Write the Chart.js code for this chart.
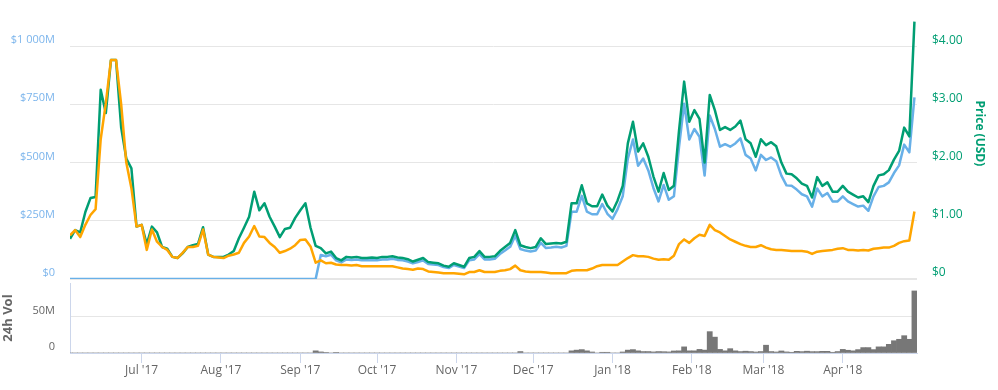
<!DOCTYPE html>
<html>
<head>
<meta charset="utf-8">
<title>Price chart</title>
<script src="https://cdn.jsdelivr.net/npm/chart.js@4.4.1/dist/chart.umd.min.js"></script>
<style>
  html, body { margin: 0; padding: 0; background: #fff; }
  #wrap { position: relative; width: 998px; height: 390px; }
  #volChart { position: absolute; left: 0; top: 275px; }
  #priceChart { position: absolute; left: 0; top: 0; z-index: 2; }
</style>
</head>
<body>
<div id="wrap">
  <canvas id="volChart" width="998" height="115"></canvas>
  <canvas id="priceChart" width="998" height="290"></canvas>
</div>
<script>
// one sample every 2 days, day 0 = 3 Jun 2017
const STEP_DAYS = 2;
const X_MAX = 331;

const monthTickDays = [28, 59, 90, 120, 151, 181, 212, 243, 271, 302];
const monthTickLabels = ["Jul '17", "Aug '17", "Sep '17", "Oct '17", "Nov '17", "Dec '17", "Jan '18", "Feb '18", "Mar '18", "Apr '18"];
const capTicks = [0, 250, 500, 750, 1000];    // $M
const priceTicks = [0, 1, 2, 3, 4];           // USD
const volTicks = [0, 50];                     // M

// price in USD
const priceUsd = [
  0.69, 0.84, 0.80, 1.15, 1.39, 1.41, 3.25, 2.85, 3.76, 3.76,
  2.60, 2.07, 1.90, 0.90, 0.93, 0.60, 0.90, 0.80, 0.55, 0.52,
  0.38, 0.36, 0.44, 0.55, 0.58, 0.60, 0.89, 0.42, 0.38, 0.38,
  0.38, 0.42, 0.48, 0.70, 0.88, 1.07, 1.50, 1.18, 1.30, 1.07,
  0.90, 0.72, 0.86, 0.88, 1.05, 1.18, 1.30, 0.88, 0.57, 0.53,
  0.44, 0.47, 0.36, 0.32, 0.38, 0.37, 0.38, 0.36, 0.36, 0.37,
  0.36, 0.38, 0.38, 0.39, 0.37, 0.36, 0.34, 0.30, 0.33, 0.36,
  0.29, 0.28, 0.27, 0.23, 0.21, 0.27, 0.24, 0.21, 0.36, 0.38,
  0.48, 0.38, 0.38, 0.39, 0.48, 0.55, 0.62, 0.84, 0.58, 0.55,
  0.53, 0.55, 0.70, 0.60, 0.61, 0.62, 0.61, 0.64, 1.30, 1.30,
  1.61, 1.30, 1.25, 1.25, 1.45, 1.26, 1.16, 1.35, 1.60, 2.33,
  2.70, 2.19, 2.33, 2.10, 1.76, 1.50, 1.82, 1.53, 1.60, 2.55,
  3.39, 2.70, 2.90, 2.75, 2.00, 3.16, 2.90, 2.56, 2.61, 2.56,
  2.62, 2.72, 2.40, 2.33, 2.10, 2.40, 2.30, 2.35, 2.28, 2.00,
  1.81, 1.80, 1.73, 1.64, 1.60, 1.40, 1.75, 1.60, 1.66, 1.50,
  1.50, 1.60, 1.50, 1.45, 1.40, 1.42, 1.32, 1.60, 1.78, 1.80,
  1.87, 2.05, 2.20, 2.60, 2.45, 4.42
];

// market cap in $M (no data before mid Sep)
const marketCapM = [
  0, 0, 0, 0, 0, 0, 0, 0, 0, 0,
  0, 0, 0, 0, 0, 0, 0, 0, 0, 0,
  0, 0, 0, 0, 0, 0, 0, 0, 0, 0,
  0, 0, 0, 0, 0, 0, 0, 0, 0, 0,
  0, 0, 0, 0, 0, 0, 0, 0, 0, 103,
  98, 104, 80, 71, 84, 82, 84, 80, 80, 82,
  80, 84, 84, 87, 82, 80, 75, 67, 73, 80,
  64, 62, 60, 51, 47, 60, 53, 47, 80, 84,
  107, 84, 84, 87, 107, 122, 138, 186, 129, 122,
  118, 122, 155, 133, 135, 138, 135, 142, 289, 289,
  357, 289, 278, 278, 322, 280, 258, 300, 355, 517,
  599, 486, 517, 466, 391, 333, 404, 340, 355, 566,
  753, 599, 644, 611, 444, 702, 644, 568, 579, 568,
  582, 604, 533, 517, 466, 533, 511, 522, 506, 444,
  402, 400, 384, 364, 355, 311, 389, 355, 369, 333,
  333, 355, 333, 322, 311, 315, 293, 355, 395, 400,
  415, 455, 488, 577, 544, 780
];

// price in BTC, satoshi
const priceSat = [
  30000, 33600, 28800, 37200, 44000, 48000, 96000, 120800, 150400, 150400,
  120000, 80000, 62400, 36000, 37200, 20000, 34000, 25600, 22000, 20000,
  15200, 14400, 18000, 22000, 22000, 22800, 34000, 16800, 15200, 14800,
  14400, 16000, 16800, 18000, 24800, 29200, 36400, 29200, 28800, 24800,
  22000, 18000, 19200, 20800, 23200, 26800, 27200, 22400, 11200, 12800,
  10800, 11200, 10000, 9600, 9600, 9200, 9600, 8800, 8800, 8800,
  8800, 8800, 8800, 8800, 8000, 7200, 6800, 6400, 7200, 6800,
  5200, 4800, 4400, 4000, 4000, 4000, 3600, 3200, 4800, 4800,
  6000, 4800, 4800, 4800, 5600, 6000, 6800, 9200, 6000, 5200,
  4800, 4800, 4800, 4400, 4000, 4000, 4000, 4000, 5600, 6000,
  6000, 6000, 7200, 8800, 9600, 9600, 9600, 9600, 12000, 14400,
  16400, 15600, 15600, 15200, 14000, 13200, 13600, 13200, 16000, 24000,
  27200, 24800, 28000, 30400, 29600, 37200, 33600, 32000, 29600, 27200,
  25600, 24000, 22800, 22000, 22000, 23200, 21600, 20400, 20000, 20000,
  19600, 19200, 19200, 19200, 18800, 17200, 18800, 19200, 19600, 20000,
  20800, 21200, 20000, 20000, 19600, 20000, 19600, 20800, 21200, 21600,
  21600, 22800, 24800, 26000, 26400, 46400
];

// 24h volume in $M
const volumeM = [
  0, 0, 0, 0, 0, 0, 0, 0, 0, 0,
  0, 0, 0, 0, 0, 0, 0, 0, 0, 0,
  0, 0, 0, 0, 0, 0, 0, 0, 0, 0,
  0, 0, 0, 0, 0, 0, 0, 0, 0, 0,
  0, 0, 0, 0, 0, 0, 0, 0, 3, 1.5,
  0.8, 0, 0.8, 0, 0, 0, 0, 0, 0, 0,
  0, 0, 0, 0, 0, 0, 0, 0, 0, 0,
  0, 0, 0, 0, 0, 0, 0, 0, 0, 0,
  0, 0, 0, 0, 0, 0, 0, 0, 2, 0,
  0, 0, 0, 0, 0, 0, 0, 0, 3, 4,
  4.7, 3, 1.4, 0, 1, 1, 0, 0, 1.4, 4,
  4.7, 3, 2, 2, 1.5, 2, 1.8, 1.5, 2.8, 3,
  8.5, 3, 3, 5, 4, 29.6, 22, 5, 3, 6,
  3, 2, 2.5, 2, 1.4, 2, 10.8, 2, 1.4, 2.8,
  1.5, 1, 2.3, 1.9, 2.5, 1.9, 1.9, 2.3, 2.3, 1,
  2, 5, 3.8, 3, 4.7, 7.5, 7.5, 4.7, 8.5, 8.5,
  12, 17, 19, 24, 19, 86
];

const BLUE = '#68b0e8';
const BLUE_TEXT = '#7cb5ec';
const GREEN = '#009e73';
const ORANGE = '#ffa500';
const GREY_TEXT = '#666666';
const GRID = '#e6e6e6';
const AXIS = '#ccd6eb';
const FONT = "'Open Sans', sans-serif";

Chart.defaults.font.family = FONT;
Chart.defaults.animation = false;

const toPoints = arr => arr.map((v, i) => ({ x: i * STEP_DAYS, y: v }));
const spaced = n => String(n).replace(/\B(?=(\d{3})+(?!\d))/g, ' ');
const setTicks = list => axis => { axis.ticks = list.map(v => ({ value: v })); };
const noTickMark = { drawTicks: true, tickLength: 15, tickColor: 'rgba(0,0,0,0)' };

// right axis title, centred a bit higher than the axis middle like the original
const priceTitle = {
    id: 'priceTitle',
    afterDraw(chart, args, opts) {
        const scale = chart.scales[opts.scaleId];
        const ctx = chart.ctx;
        ctx.save();
        ctx.translate(scale.right - 19, scale.getPixelForValue(opts.centreValue));
        ctx.rotate(Math.PI / 2);
        ctx.font = 'bold 12px ' + FONT;
        ctx.fillStyle = opts.color;
        ctx.textAlign = 'center';
        ctx.textBaseline = 'middle';
        ctx.fillText(opts.text, 0, 0);
        ctx.restore();
    }
};

new Chart(document.getElementById('priceChart'), {
    type: 'line',
    data: {
        datasets: [
            { label: 'Price (BTC)', data: toPoints(priceSat), yAxisID: 'yBtc', borderColor: ORANGE, order: 1 },
            { label: 'Price (USD)', data: toPoints(priceUsd), yAxisID: 'yPrice', borderColor: GREEN, order: 2 },
            { label: 'Market Cap', data: toPoints(marketCapM), yAxisID: 'yCap', borderColor: BLUE, order: 3 }
        ]
    },
    options: {
        responsive: false,
        layout: { padding: { top: 17, bottom: 11, left: 0, right: 0 } },
        elements: {
            line: { borderWidth: 2.5, tension: 0, fill: false, borderJoinStyle: 'round' },
            point: { radius: 0 }
        },
        plugins: {
            legend: { display: false },
            tooltip: { enabled: false },
            priceTitle: { scaleId: 'yPrice', text: 'Price (USD)', color: GREEN, centreValue: 2.5 }
        },
        scales: {
            x: { type: 'linear', min: 0, max: X_MAX, display: false },
            yCap: {
                position: 'left', min: 0, max: 1125,
                afterBuildTicks: setTicks(capTicks),
                afterFit: axis => { axis.width = 70; },
                border: { display: false },
                grid: Object.assign({ color: GRID, lineWidth: c => c.tick && c.tick.value === 0 ? 2 : 1 }, noTickMark),
                ticks: {
                    padding: 0, labelOffset: -6, color: BLUE_TEXT, font: { size: 11 },
                    callback: v => v === 0 ? '$0' : '$' + spaced(v) + 'M'
                }
            },
            yPrice: {
                position: 'right', min: 0, max: 4.5,
                afterBuildTicks: setTicks(priceTicks),
                afterFit: axis => { axis.width = 81; },
                border: { display: false },
                grid: Object.assign({ drawOnChartArea: false }, noTickMark),
                ticks: {
                    padding: 0, labelOffset: -6, color: GREEN, font: { size: 12 },
                    callback: v => v === 0 ? '$0' : '$' + v.toFixed(2)
                }
            },
            yBtc: { position: 'right', min: 0, max: 180000, display: false }
        }
    },
    plugins: [priceTitle]
});

new Chart(document.getElementById('volChart'), {
    type: 'bar',
    data: {
        datasets: [{
            label: '24h Vol', data: toPoints(volumeM), backgroundColor: '#777777',
            barPercentage: 1, categoryPercentage: 1, borderWidth: 0
        }]
    },
    options: {
        responsive: false,
        layout: { padding: { top: 8, bottom: 0, left: 0, right: 81 } },
        plugins: { legend: { display: false }, tooltip: { enabled: false } },
        scales: {
            x: {
                type: 'linear', min: 0, max: X_MAX, offset: false,
                afterBuildTicks: setTicks(monthTickDays),
                afterFit: axis => { axis.height = 37; },
                border: { color: AXIS },
                grid: { offset: false, drawOnChartArea: false, tickLength: 10, tickColor: AXIS },
                ticks: {
                    padding: 0, color: GREY_TEXT, font: { size: 12 }, maxRotation: 0, autoSkip: false,
                    callback: (v, i) => monthTickLabels[i]
                }
            },
            y: {
                min: 0, max: 97,
                afterBuildTicks: setTicks(volTicks),
                afterFit: axis => { axis.width = 70; },
                border: { color: AXIS },
                grid: Object.assign({ color: c => c.tick && c.tick.value === 0 ? 'rgba(0,0,0,0)' : GRID }, noTickMark),
                ticks: {
                    padding: 0, labelOffset: -6, color: GREY_TEXT, font: { size: 11 },
                    callback: v => v === 0 ? '0' : v + 'M'
                },
                title: {
                    display: true, text: '24h Vol', color: GREY_TEXT,
                    font: { size: 13, weight: 'bold' }, padding: { top: 0, bottom: 0 }
                }
            }
        }
    }
});
</script>
</body>
</html>
